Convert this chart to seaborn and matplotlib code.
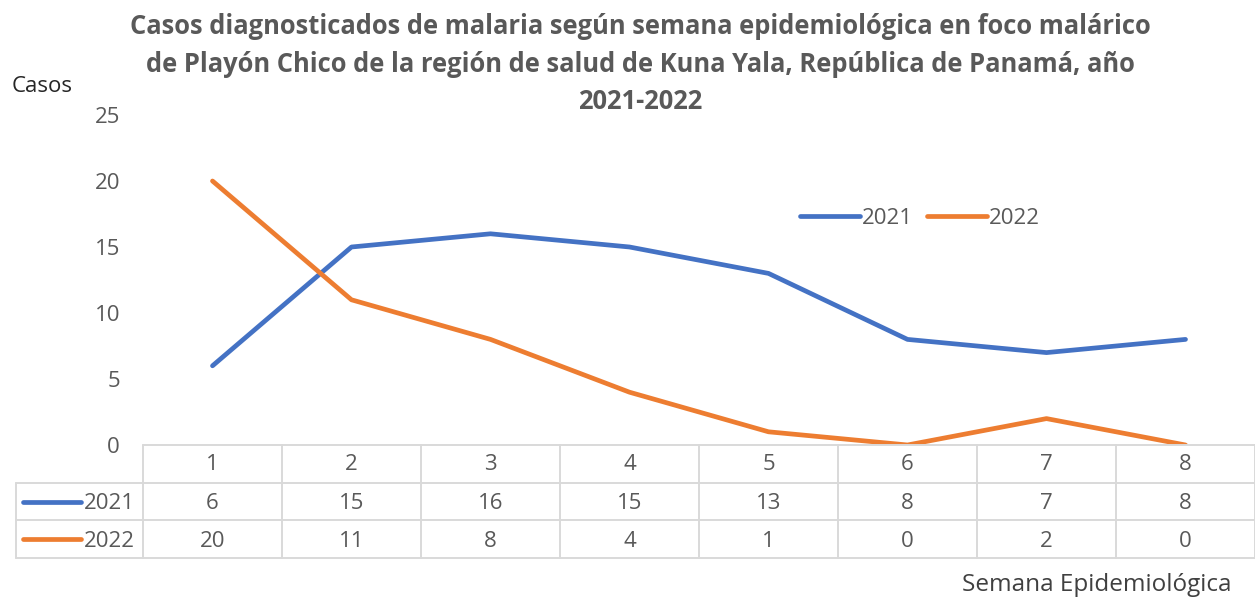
import pandas as pd
import matplotlib
matplotlib.use("Agg")
import matplotlib.pyplot as plt
import seaborn as sns

# data
weeks = [1, 2, 3, 4, 5, 6, 7, 8]
casos_2021 = [6, 15, 16, 15, 13, 8, 7, 8]
casos_2022 = [20, 11, 8, 4, 1, 0, 2, 0]
years = ["2021", "2022"]
y_ticks = [0, 5, 10, 15, 20, 25]

title = ("Casos diagnosticados de malaria según semana epidemiológica en foco malárico\n"
         "de Playón Chico de la región de salud de Kuna Yala, República de Panamá, año\n"
         "2021-2022")

colors = {"2021": "#4472C4", "2022": "#ED7D31"}
text_gray = "#595959"
grid_gray = "#D9D9D9"
fs = 16
lw = 3.4

df = pd.DataFrame({
    "semana": weeks * 2,
    "casos": casos_2021 + casos_2022,
    "anio": [years[0]] * len(weeks) + [years[1]] * len(weeks),
})
series = {years[0]: casos_2021, years[1]: casos_2022}

sns.set_style("white")
plt.rcParams["font.family"] = ["Open Sans", "DejaVu Sans"]

W, H = 1255, 597
fig = plt.figure(figsize=(W / 100, H / 100), dpi=100)


def fx(px):
    return px / W


def fy(py):
    return 1 - py / H


# main line chart
ax = fig.add_axes([fx(143), fy(445), fx(1255) - fx(143), fy(115) - fy(445)])
sns.lineplot(data=df, x="semana", y="casos", hue="anio", palette=colors,
             linewidth=lw, ax=ax)
for line in ax.lines:
    line.set_solid_capstyle("round")
ax.set_xlim(0.5, 8.5)
ax.set_ylim(0, 25)
ax.set_yticks(y_ticks)
ax.set_xticks([])
ax.tick_params(axis="y", length=0, pad=16.5, labelsize=fs, labelcolor=text_gray)
for s in ax.spines.values():
    s.set_visible(False)
ax.set_xlabel("")
ax.set_ylabel("")

handles, labels = ax.get_legend_handles_labels()
for h in handles:
    h.set_linewidth(lw)
    h.set_solid_capstyle("round")
ax.legend(handles, labels, loc="center", bbox_to_anchor=(fx(920), fy(218)),
          bbox_transform=fig.transFigure, ncol=2, frameon=False,
          fontsize=fs, labelcolor=text_gray, handlelength=2.7,
          handletextpad=0.1, columnspacing=0.6)

# data table under the chart
tab = fig.add_axes([fx(143), fy(558), fx(1255) - fx(143), fy(445) - fy(558)])
tab.set_xlim(0.5, 8.5)
tab.set_ylim(3, 0)
tab.axis("off")
x_left = 0.5 - 127 / 139
lkw = dict(color=grid_gray, lw=1.4, clip_on=False)
tab.plot([0.5, 8.5], [0, 0], **lkw)
for r in [1, 2, 3]:
    tab.plot([x_left, 8.5], [r, r], **lkw)
for i in range(len(weeks) + 1):
    tab.plot([0.5 + i, 0.5 + i], [0, 3], **lkw)
tab.plot([x_left, x_left], [1, 3], **lkw)

tkw = dict(ha="center", va="center", fontsize=fs, color=text_gray)
for w in weeks:
    tab.text(w, 0.52, str(w), **tkw)
for r, yr in enumerate(years, start=1):
    for w, v in zip(weeks, series[yr]):
        tab.text(w, r + 0.55, str(v), **tkw)
    tab.plot([x_left + 7 / 139, x_left + 65 / 139], [r + 0.5, r + 0.5],
             color=colors[yr], lw=lw, solid_capstyle="round", clip_on=False)
    tab.text(x_left + 68 / 139, r + 0.55, yr, ha="left", va="center",
             fontsize=fs, color=text_gray, clip_on=False)

# titles and axis labels
fig.text(fx(640), fy(13), title, ha="center", va="top", fontsize=18.4,
         fontweight="bold", color=text_gray, linespacing=1.5)
fig.text(fx(12), fy(87), "Casos", ha="left", va="center", fontsize=16,
         color="#262626")
fig.text(fx(1232), fy(585), "Semana Epidemiológica", ha="right", va="center",
         fontsize=17.5, color="#404040")

fig.savefig("out.png", dpi=100)
